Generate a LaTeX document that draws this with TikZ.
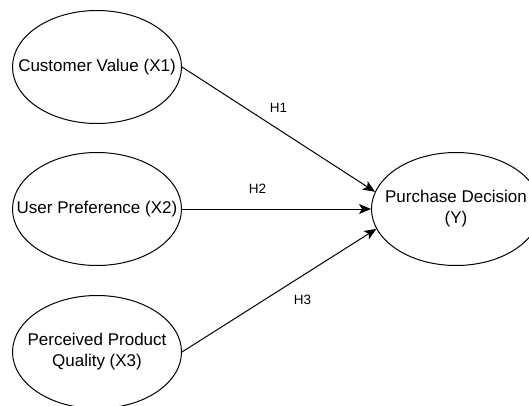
\documentclass[tikz,border=0pt]{standalone}
\usepackage{fontspec}
\setmainfont{Liberation Sans}
\usetikzlibrary{shapes.geometric,arrows.meta}

\begin{document}
\begin{tikzpicture}[x=1pt,y=1pt,
  construct/.style={draw,ellipse,line width=1pt,minimum width=169pt,minimum height=113pt,inner sep=0pt},
  ctext/.style={font=\fontsize{17}{21}\selectfont,align=center,inner sep=0pt},
  path/.style={draw,line width=1pt,-{Stealth[length=12pt,width=10pt,inset=3pt]}},
  hyp/.style={font=\fontsize{13.5}{16}\selectfont,inner sep=1pt}]
\useasboundingbox (0,0) rectangle (529,405);

\node[construct] (cv) at (97,338) {};
\node[construct] (up) at (97,196) {};
\node[construct] (ppq) at (97,53) {};
\node[construct] (pd) at (456,196) {};

\node[ctext] (cvt) at (cv) {Customer Value (X1)};
\node[ctext] (upt) at (up) {User Preference (X2)};
\node[ctext] (ppqt) at (ppq) {Perceived Product\\Quality (X3)};
\node[ctext] (pdt) at (pd) {Purchase Decision\\(Y)};

\draw[path] (cv.east) -- (pd.168) node[hyp,pos=.5,above=15pt] (h1) {H1};
\draw[path] (up.east) -- (pd.west) node[hyp,pos=.4,above=14pt] (h2) {H2};
\draw[path] (ppq.east) -- (pd.194) node[hyp,pos=.62,below=18pt] (h3) {H3};
\end{tikzpicture}
\end{document}
